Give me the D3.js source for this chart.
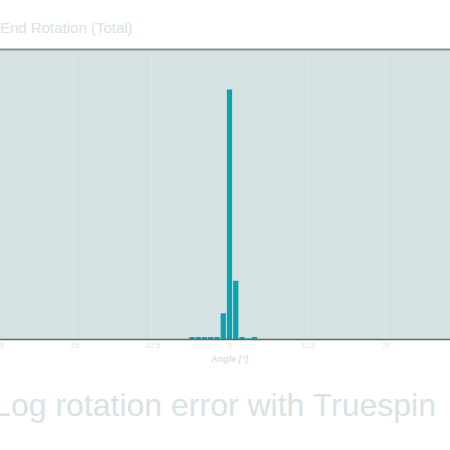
<!DOCTYPE html>
<html><head><meta charset="utf-8">
<script src="https://cdn.jsdelivr.net/npm/d3@7"></script>
<style>html,body{margin:0;padding:0;background:#fff;overflow:hidden}svg{display:block}</style>
</head><body>
<svg id="c" width="450" height="450"></svg>
<script>
// Data
const binCenters = [-6, -5, -4, -3, -2, -1, 0, 1, 2, 3, 4];
const counts     = [ 2,  2,  2,  2,  2, 21, 200, 47, 2, 1, 2];
const xTickValues = [-37.5, -25, -12.5, 0, 12.5, 25];
const titleText = "End Rotation (Total)";
const xLabelText = "Angle [°]";
const captionText = "Log rotation error with Truespin";

(function () {
const svg = d3.select("#c");
const plotTop = 49.5, plotBottom = 339.5, plotLeft = 0, plotRight = 450;
const x = d3.scaleLinear().domain([-37.5, 37.5]).range([229.5 - 234, 229.5 + 234]);
const y = d3.scaleLinear().domain([0, 232]).range([plotBottom, plotTop]);

// plot background
svg.append("rect").attr("x", plotLeft).attr("y", plotTop).attr("width", plotRight - plotLeft).attr("height", plotBottom - plotTop).attr("fill", "#d6e2e2");

// vertical grid
svg.append("g").selectAll("line").data(xTickValues).join("line")
  .attr("x1", d => x(d)).attr("x2", d => x(d)).attr("y1", plotTop).attr("y2", plotBottom)
  .attr("stroke", "#dbe6e6").attr("stroke-width", 1);

// bars
svg.append("g").selectAll("rect").data(binCenters).join("rect")
  .attr("x", d => x(d - 0.5) + 0.5)
  .attr("width", d => x(d + 0.5) - x(d - 0.5) - 1)
  .attr("y", (d, i) => y(counts[i]))
  .attr("height", (d, i) => y(0) - y(counts[i]))
  .attr("fill", "#0aa4b1");

// top border
svg.append("line").attr("x1", 0).attr("x2", 450).attr("y1", plotTop).attr("y2", plotTop).attr("stroke", "#8a9090").attr("stroke-width", 2);

// x axis
const fmt = d => String(d).replace(".", ",");
const ax = svg.append("g").attr("transform", `translate(0,${plotBottom})`)
  .call(d3.axisBottom(x).tickValues(xTickValues).tickFormat(fmt).tickSize(0).tickPadding(4));
ax.select(".domain").attr("stroke", "#666").attr("stroke-width", 1.5).attr("d", "M0,0H450");
ax.selectAll("text").attr("fill", "#dbe5e5").attr("font-family", "Liberation Sans, Arial, sans-serif").attr("font-size", 7);

// x label
svg.append("text").attr("x", 229.5).attr("y", 362).attr("text-anchor", "middle")
  .attr("font-family", "Liberation Sans, Arial, sans-serif").attr("font-size", 9)
  .attr("font-weight", "bold").attr("font-style", "italic").attr("fill", "#d8e3e3").text(xLabelText);

// title
svg.append("text").attr("x", 0).attr("y", 33).attr("font-family", "Liberation Sans, Arial, sans-serif")
  .attr("font-size", 15).attr("fill", "#d8e3e3").text(titleText);

// caption
svg.append("text").attr("x", 436).attr("y", 416).attr("text-anchor", "end")
  .attr("font-family", "Liberation Sans, Arial, sans-serif")
  .attr("font-size", 32).attr("fill", "#d8e3e3").text(captionText);
})();
</script>
</body></html>
